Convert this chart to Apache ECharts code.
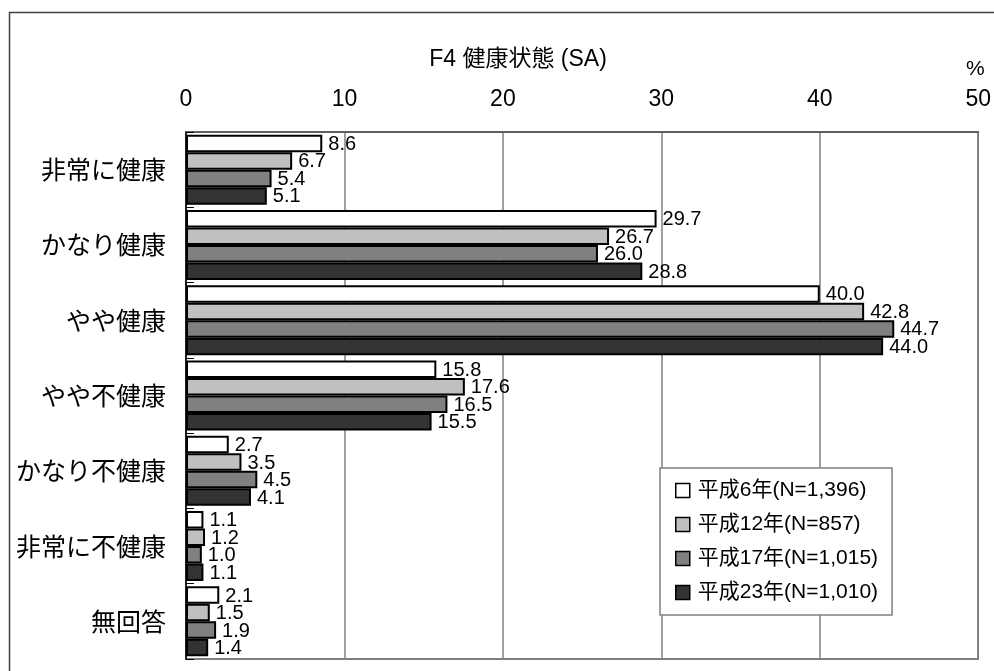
<!DOCTYPE html>
<html>
<head>
<meta charset="utf-8">
<script src="https://cdn.jsdelivr.net/npm/echarts@6/dist/echarts.min.js"></script>
<style>
  html, body { margin: 0; padding: 0; background: #fff; }
  #chart { width: 994px; height: 671px; }
</style>
</head>
<body>
<div id="chart"></div>
<script>
// Survey item F4: self-rated health, four survey years
const categories = ['非常に健康', 'かなり健康', 'やや健康', 'やや不健康', 'かなり不健康', '非常に不健康', '無回答'];
const seriesNames = ['平成6年(N=1,396)', '平成12年(N=857)', '平成17年(N=1,015)', '平成23年(N=1,010)'];
const h6  = [8.6, 29.7, 40.0, 15.8, 2.7, 1.1, 2.1];
const h12 = [6.7, 26.7, 42.8, 17.6, 3.5, 1.2, 1.5];
const h17 = [5.4, 26.0, 44.7, 16.5, 4.5, 1.0, 1.9];
const h23 = [5.1, 28.8, 44.0, 15.5, 4.1, 1.1, 1.4];
const axisTicks = [0, 10, 20, 30, 40, 50];

const seriesValues = [h6, h12, h17, h23];
const fills = ['#ffffff', '#c0c0c0', '#808080', '#333333'];
const latin = 'Liberation Sans, Arial, "Noto Sans CJK JP", sans-serif';
const cjk = '"Noto Sans CJK JP", sans-serif';

const chart = echarts.init(document.getElementById('chart'), null, { renderer: 'canvas' });

chart.setOption({
  backgroundColor: '#ffffff',
  animation: false,
  title: {
    text: 'F4 健康状態 (SA)',
    left: 513,
    textAlign: 'center',
    top: 43,
    textStyle: { fontFamily: latin, fontSize: 23, fontWeight: 'normal', color: '#000' }
  },
  graphic: [
    {
      type: 'rect',
      shape: { x: 9.5, y: 12.5, width: 1000, height: 700 },
      style: { fill: 'none', stroke: '#404040', lineWidth: 1.5 },
      silent: true, z: -1
    },
    {
      type: 'text',
      left: 966, top: 59,
      style: { text: '%', font: '21px ' + latin, fill: '#000' }
    }
  ],
  legend: {
    orient: 'vertical',
    left: 660,
    top: 468,
    padding: [12, 14, 12, 15],
    itemGap: 13,
    itemWidth: 14,
    itemHeight: 14,
    icon: 'rect',
    backgroundColor: '#ffffff',
    borderColor: '#808080',
    borderWidth: 1.5,
    itemStyle: { borderColor: '#000', borderWidth: 1.5 },
    textStyle: { fontFamily: latin, fontSize: 21, color: '#000', padding: [0, 0, 0, 3] },
    data: seriesNames
  },
  grid: {
    left: 186, right: 11, top: 132, bottom: 12,
    show: true, borderColor: '#555', borderWidth: 1.5,
    containLabel: false
  },
  xAxis: {
    type: 'value',
    position: 'top',
    min: axisTicks[0],
    max: axisTicks[axisTicks.length - 1],
    interval: axisTicks[1] - axisTicks[0],
    axisLine: { show: true, lineStyle: { color: '#555', width: 1.5 } },
    axisTick: { show: false },
    axisLabel: { fontFamily: latin, fontSize: 23, color: '#000', margin: 21 },
    splitLine: { show: true, lineStyle: { color: '#808080', width: 1.5 } }
  },
  yAxis: {
    type: 'category',
    inverse: true,
    data: categories,
    axisLine: { show: true, lineStyle: { color: '#000', width: 1.5 } },
    axisTick: { show: true, inside: true, length: 8, lineStyle: { color: '#000', width: 1 } },
    axisLabel: { fontFamily: cjk, fontSize: 25, color: '#000', margin: 20 }
  },
  series: seriesValues.map((vals, i) => ({
    name: seriesNames[i],
    type: 'bar',
    data: vals,
    barGap: '0%',
    barCategoryGap: '7%',
    itemStyle: { color: fills[i], borderColor: '#000', borderWidth: 2 },
    label: {
      show: true,
      position: 'right',
      distance: 6,
      offset: [0, 1],
      fontFamily: latin,
      fontSize: 20,
      color: '#000',
      formatter: p => p.value.toFixed(1)
    }
  }))
});
</script>
</body>
</html>
